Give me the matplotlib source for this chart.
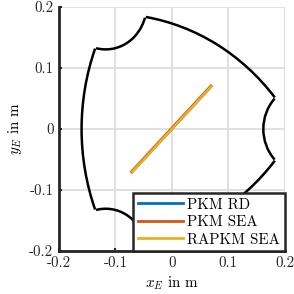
import matplotlib
matplotlib.use("Agg")
import matplotlib.pyplot as plt
from matplotlib.patches import Arc

plt.rcParams['font.family'] = 'serif'
plt.rcParams['font.serif'] = ['cmr10']
plt.rcParams['mathtext.fontset'] = 'cm'
plt.rcParams['axes.unicode_minus'] = False

# workspace boundary: three large reach arcs and three concave notch arcs
outer_centers = [(0.215, 0.0), (-0.1075, -0.1862), (-0.1075, 0.1862)]
outer_radius = 0.375
outer_arcs = [(159.4, 200.6), (39.4, 80.6), (279.4, 320.6)]
notch_centers = [(0.2345, 0.0), (-0.11725, 0.20308), (-0.11725, -0.20308)]
notch_radius = 0.0725
notch_arcs = [(136.4, 223.6), (256.4, 343.6), (16.4, 103.6)]

# end-effector trajectories
traj_names = ['PKM RD', 'PKM SEA', 'RAPKM SEA']
traj_x = [[-0.071, 0.070], [-0.072, 0.069], [-0.071, 0.070]]
traj_y = [[-0.071, 0.070], [-0.070, 0.071], [-0.071, 0.070]]
traj_colors = ['#0072BD', '#D95319', '#EDB120']

ticks = [-0.2, -0.1, 0, 0.1, 0.2]
tick_labels = ['-0.2', '-0.1', '0', '0.1', '0.2']

fs = 10.8

fig = plt.figure(figsize=(2.94, 2.94), dpi=100)
ax = fig.add_axes([0.2007, 0.146, 0.768, 0.83])

for c, (t1, t2) in zip(outer_centers, outer_arcs):
    ax.add_patch(Arc(c, 2 * outer_radius, 2 * outer_radius,
                     theta1=t1, theta2=t2, color='black', lw=1.8, zorder=3))
for c, (t1, t2) in zip(notch_centers, notch_arcs):
    ax.add_patch(Arc(c, 2 * notch_radius, 2 * notch_radius,
                     theta1=t1, theta2=t2, color='black', lw=1.8, zorder=3))

for name, xs, ys, col in zip(traj_names, traj_x, traj_y, traj_colors):
    ax.plot(xs, ys, color=col, lw=1.8, label=name, zorder=4)

ax.set_xlim(-0.2, 0.2)
ax.set_ylim(-0.2, 0.2)
ax.set_xticks(ticks)
ax.set_xticklabels(tick_labels)
ax.set_yticks(ticks)
ax.set_yticklabels(tick_labels)
ax.tick_params(direction='in', length=2, width=1.5, labelsize=fs,
               colors='#262626', pad=4)
ax.grid(True, color='#DDDDDD', lw=1.3)
ax.set_axisbelow(True)
for s in ['top', 'right']:
    ax.spines[s].set_visible(False)
for s in ['left', 'bottom']:
    ax.spines[s].set_linewidth(2)
    ax.spines[s].set_color('#262626')

ax.set_xlabel('$x_E$ in m', fontsize=fs, labelpad=3)
ax.set_ylabel('$y_E$ in m', fontsize=fs, labelpad=4)

leg = ax.legend(loc='lower right', fontsize=fs, fancybox=False, framealpha=1,
                edgecolor='#262626', borderaxespad=0, handlelength=3.0,
                handletextpad=0.3, labelspacing=0.25, borderpad=0.3)
leg.get_frame().set_linewidth(1.8)
for h in leg.get_lines():
    h.set_linewidth(2)

fig.savefig('out.png', dpi=100)
